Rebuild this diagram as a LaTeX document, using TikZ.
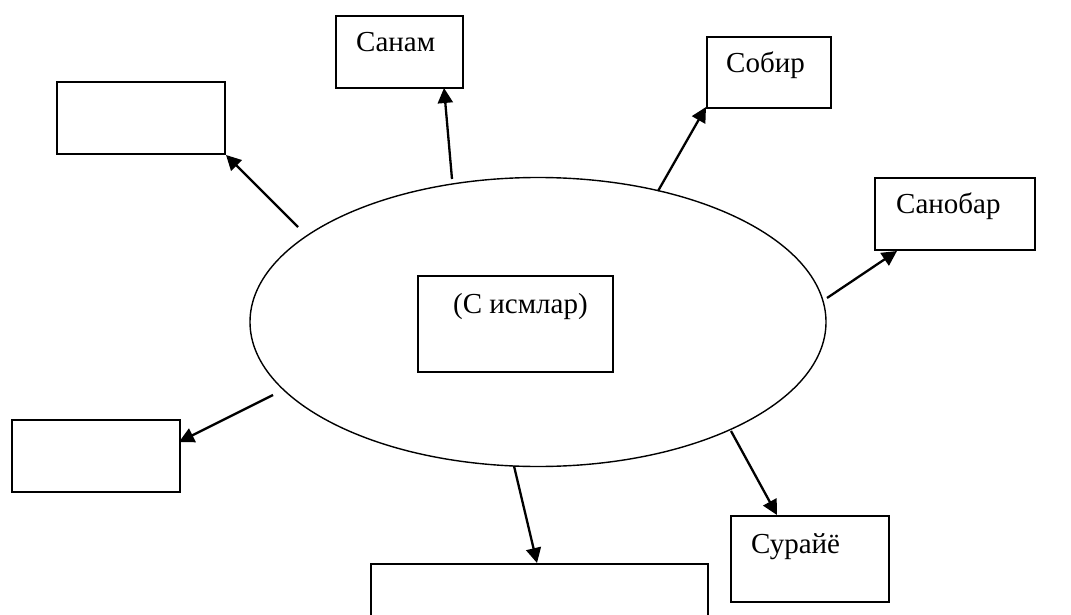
\documentclass[tikz,border=0pt]{standalone}
\usepackage{fontspec}
\setmainfont{Liberation Serif}
\usetikzlibrary{shapes.geometric,arrows.meta}
\begin{document}
\begin{tikzpicture}[x=1pt,y=-1pt,
  box/.style={draw,line width=1.9pt,rectangle,inner sep=0pt,anchor=north west},
  lbl/.style={anchor=base west,inner sep=0pt,font=\fontsize{29}{34}\selectfont},
  arr/.style={line width=2.3pt,-{Triangle[length=15pt,width=15pt]}}]
\useasboundingbox (0,0) rectangle (1071,615);
\clip (0,0) rectangle (1071,615);
% central ellipse
\node[draw,ellipse,line width=1.4pt,minimum width=576pt,minimum height=289pt,inner sep=0pt] (c) at (538,322) {};
% boxes
\node[box,minimum width=195pt,minimum height=96pt] (inner) at (417,275) {};
\node[box,minimum width=127pt,minimum height=72pt] (sanam) at (335,15) {};
\node[box,minimum width=124pt,minimum height=71pt] (sobir) at (706,36) {};
\node[box,minimum width=160pt,minimum height=72pt] (sanobar) at (874,177) {};
\node[box,minimum width=158pt,minimum height=86pt] (suraye) at (730,515) {};
\node[box,minimum width=168pt,minimum height=72pt] (tl) at (56,81) {};
\node[box,minimum width=168pt,minimum height=72pt] (bl) at (11,419) {};
\node[box,minimum width=337pt,minimum height=80pt] (bot) at (370,563) {};
% labels
\node[lbl] (lsanam) at (356,52) {Санам};
\node[lbl] (lsobir) at (726,73) {Собир};
\node[lbl] (lsanobar) at (896,213) {Санобар};
\node[lbl] (lsuraye) at (751,553) {Сурайё};
\node[lbl] (linner) at (453,313) {(С исмлар)};
% connector ends
\coordinate (t1) at (298,227); \coordinate (h1) at (226,155);
\coordinate (t2) at (452,179); \coordinate (h2) at (444,88);
\coordinate (t3) at (658,191); \coordinate (h3) at (706,107);
\coordinate (t4) at (827,298); \coordinate (h4) at (897,251);
\coordinate (t5) at (273,395); \coordinate (h5) at (179,442);
\coordinate (t6) at (514,466); \coordinate (h6) at (537,563);
\coordinate (t7) at (731,431); \coordinate (h7) at (777,515);
\draw[arr] (t1) -- (h1);
\draw[arr] (t2) -- (h2);
\draw[arr] (t3) -- (h3);
\draw[arr] (t4) -- (h4);
\draw[arr] (t5) -- (h5);
\draw[arr] (t6) -- (h6);
\draw[arr] (t7) -- (h7);
\end{tikzpicture}
\end{document}
